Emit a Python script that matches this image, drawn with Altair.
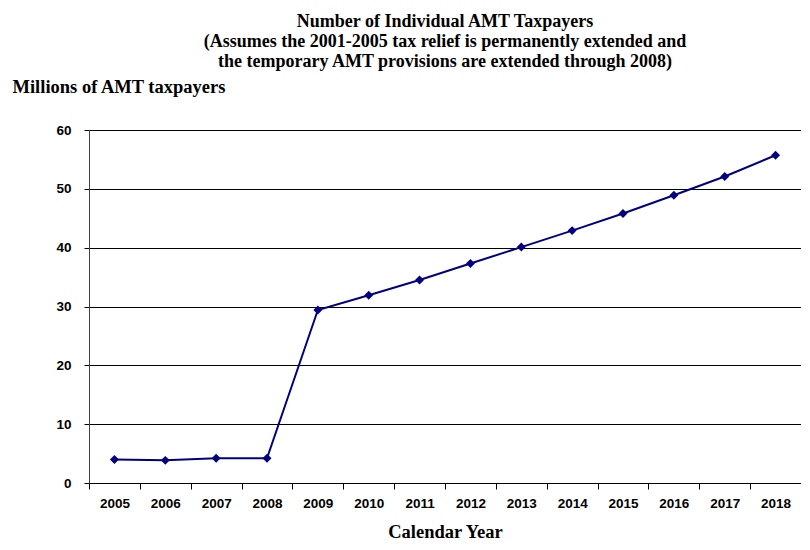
import altair as alt
import pandas as pd

years = ["2005", "2006", "2007", "2008", "2009", "2010", "2011",
         "2012", "2013", "2014", "2015", "2016", "2017", "2018"]
taxpayers = [4.0, 3.85, 4.2, 4.2, 29.4, 31.9, 34.5,
             37.3, 40.1, 42.9, 45.8, 48.9, 52.1, 55.7]

df = pd.DataFrame({"year": years, "value": taxpayers})

title_lines = ["Number of Individual AMT Taxpayers",
               "(Assumes the 2001-2005 tax relief is permanently extended and",
               "the temporary AMT provisions are extended through 2008)"]

serif = "Liberation Serif"
sans = "Liberation Sans"

chart = alt.Chart(df).mark_line(
    color="#000080", strokeWidth=2,
    point=alt.OverlayMarkDef(shape="diamond", filled=True, color="#000080", size=80, opacity=1)
).encode(
    x=alt.X("year:N", sort=years,
            scale=alt.Scale(paddingInner=0, paddingOuter=0),
            axis=alt.Axis(title="Calendar Year", labelAngle=0, tickBand="extent",
                          labelFont=sans, labelFontWeight="bold", labelFontSize=13.5,
                          labelColor="black", labelPadding=7,
                          tickColor="black", tickSize=6, domainColor="black",
                          titleFont=serif, titleFontSize=18.5, titleFontWeight="bold",
                          titleColor="black", titlePadding=13, grid=False)),
    y=alt.Y("value:Q",
            scale=alt.Scale(domain=[0, 60], nice=False),
            axis=alt.Axis(title="Millions of  AMT taxpayers", values=[0, 10, 20, 30, 40, 50, 60],
                          labelFont=sans, labelFontWeight="bold", labelFontSize=13.5,
                          labelColor="black", labelPadding=13,
                          tickColor="black", tickSize=5, domainColor="#404040",
                          gridColor="black", gridWidth=1,
                          titleFont=serif, titleFontSize=18.5, titleFontWeight="bold",
                          titleColor="black", titleAngle=0, titleAlign="left",
                          titleBaseline="middle", titleX=-77, titleY=-44)),
).properties(
    width=712, height=353,
    title=alt.TitleParams(text=title_lines, font=serif, fontSize=18,
                          fontWeight="bold", color="black", anchor="middle",
                          lineHeight=20, offset=6),
    autosize=alt.AutoSizeParams(type="none"),
    padding={"left": 81, "top": 122, "right": 0, "bottom": 58},
).configure_view(stroke="#808080", strokeWidth=1)

chart.save("out.html", embed_options={"renderer": "svg", "actions": False})
